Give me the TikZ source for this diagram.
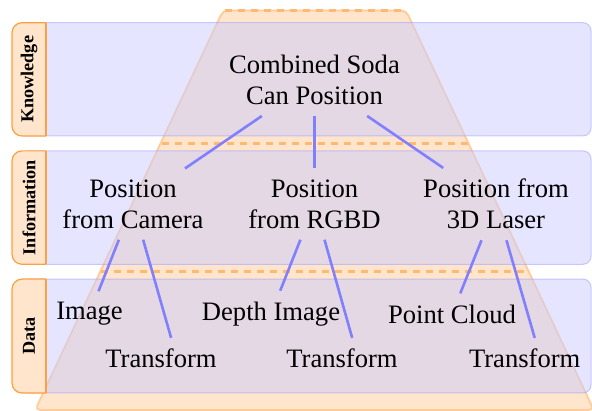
\documentclass[tikz,border=0pt]{standalone}
\usepackage{fontspec}
\setmainfont{Liberation Serif}
\begin{document}
\begin{tikzpicture}[x=1pt,y=-1pt,
  txt/.style={font=\fontsize{26.6}{31}\selectfont, inner sep=11pt},
  txttwo/.style={txt, align=center},
  lbl/.style={font=\fontsize{18.2}{20}\selectfont\bfseries, rotate=90, inner sep=0pt},
  link/.style={draw=blue!50, line width=2.6pt},
  band/.style={fill=blue!20, draw=blue!40, opacity=0.5, rounded corners=8pt, line width=1pt},
  tabfill/.style={fill=orange!20, draw=orange!75, line width=1.2pt, rounded corners=10pt},
  tabedge/.style={draw=orange!75, line width=1.2pt},
  trap/.style={fill=orange!20, draw=orange!40, line width=1.8pt, rounded corners=5pt},
  level/.style={draw=orange!55, line width=2.5pt, dash pattern=on 7pt off 6pt}
]
\useasboundingbox (0,0) rectangle (592,411);

% pyramid
\path[trap] (223,10.5) -- (35.2,410) -- (593.8,410) -- (406,10.5) -- cycle;
\draw[level] (224.5,10.5) -- (404.5,10.5);
\draw[level] (161.5,143.4) -- (467.5,143.4);
\draw[level] (101,271.7) -- (528,271.7);

% bands
\path[band] (20,22.7) rectangle (591,136);
\path[band] (20,150.9) rectangle (591,264.3);
\path[band] (20,279.1) rectangle (591,393);

% tabs
\path[tabfill] (46,22.7) -- (12,22.7) -- (12,136) -- (46,136);
\draw[tabedge] (46,22.7) -- (46,136);
\path[tabfill] (46,150.9) -- (12,150.9) -- (12,264.3) -- (46,264.3);
\draw[tabedge] (46,150.9) -- (46,264.3);
\path[tabfill] (46,279.1) -- (12,279.1) -- (12,393) -- (46,393);
\draw[tabedge] (46,279.1) -- (46,393);

\node[lbl] (lk) at (29,79.4) {Knowledge};
\node[lbl] (li) at (29,207.6) {Information};
\node[lbl] (ld) at (29,336) {Data};

% text nodes
\node[txttwo] (comb) at (314.5,79.9) {Combined Soda\\Can Position};
\node[txttwo] (cam) at (133,204.1) {Position\\from Camera};
\node[txttwo] (rgbd) at (314.5,204.1) {Position\\from RGBD};
\node[txttwo] (laser) at (496,204.1) {Position from\\3D Laser};
\node[txt] (img) at (89.5,314) {Image};
\node[txt] (depth) at (271,314) {Depth Image};
\node[txt] (pc) at (452,314) {Point Cloud};
\node[txt] (tr1) at (177,358.6) {Transform\kern32pt};
\node[txt] (tr2) at (358,358.6) {Transform\kern32pt};
\node[txt] (tr3) at (540.7,358.6) {Transform\kern32pt};

% connectors
\draw[link] (comb) -- (cam);
\draw[link] (comb) -- (rgbd);
\draw[link] (comb) -- (laser);
\draw[link] (cam) -- (img);
\draw[link] (cam) -- (tr1);
\draw[link] (rgbd) -- (depth);
\draw[link] (rgbd) -- (tr2);
\draw[link] (laser) -- (pc);
\draw[link] (laser) -- (tr3);
\end{tikzpicture}
\end{document}
